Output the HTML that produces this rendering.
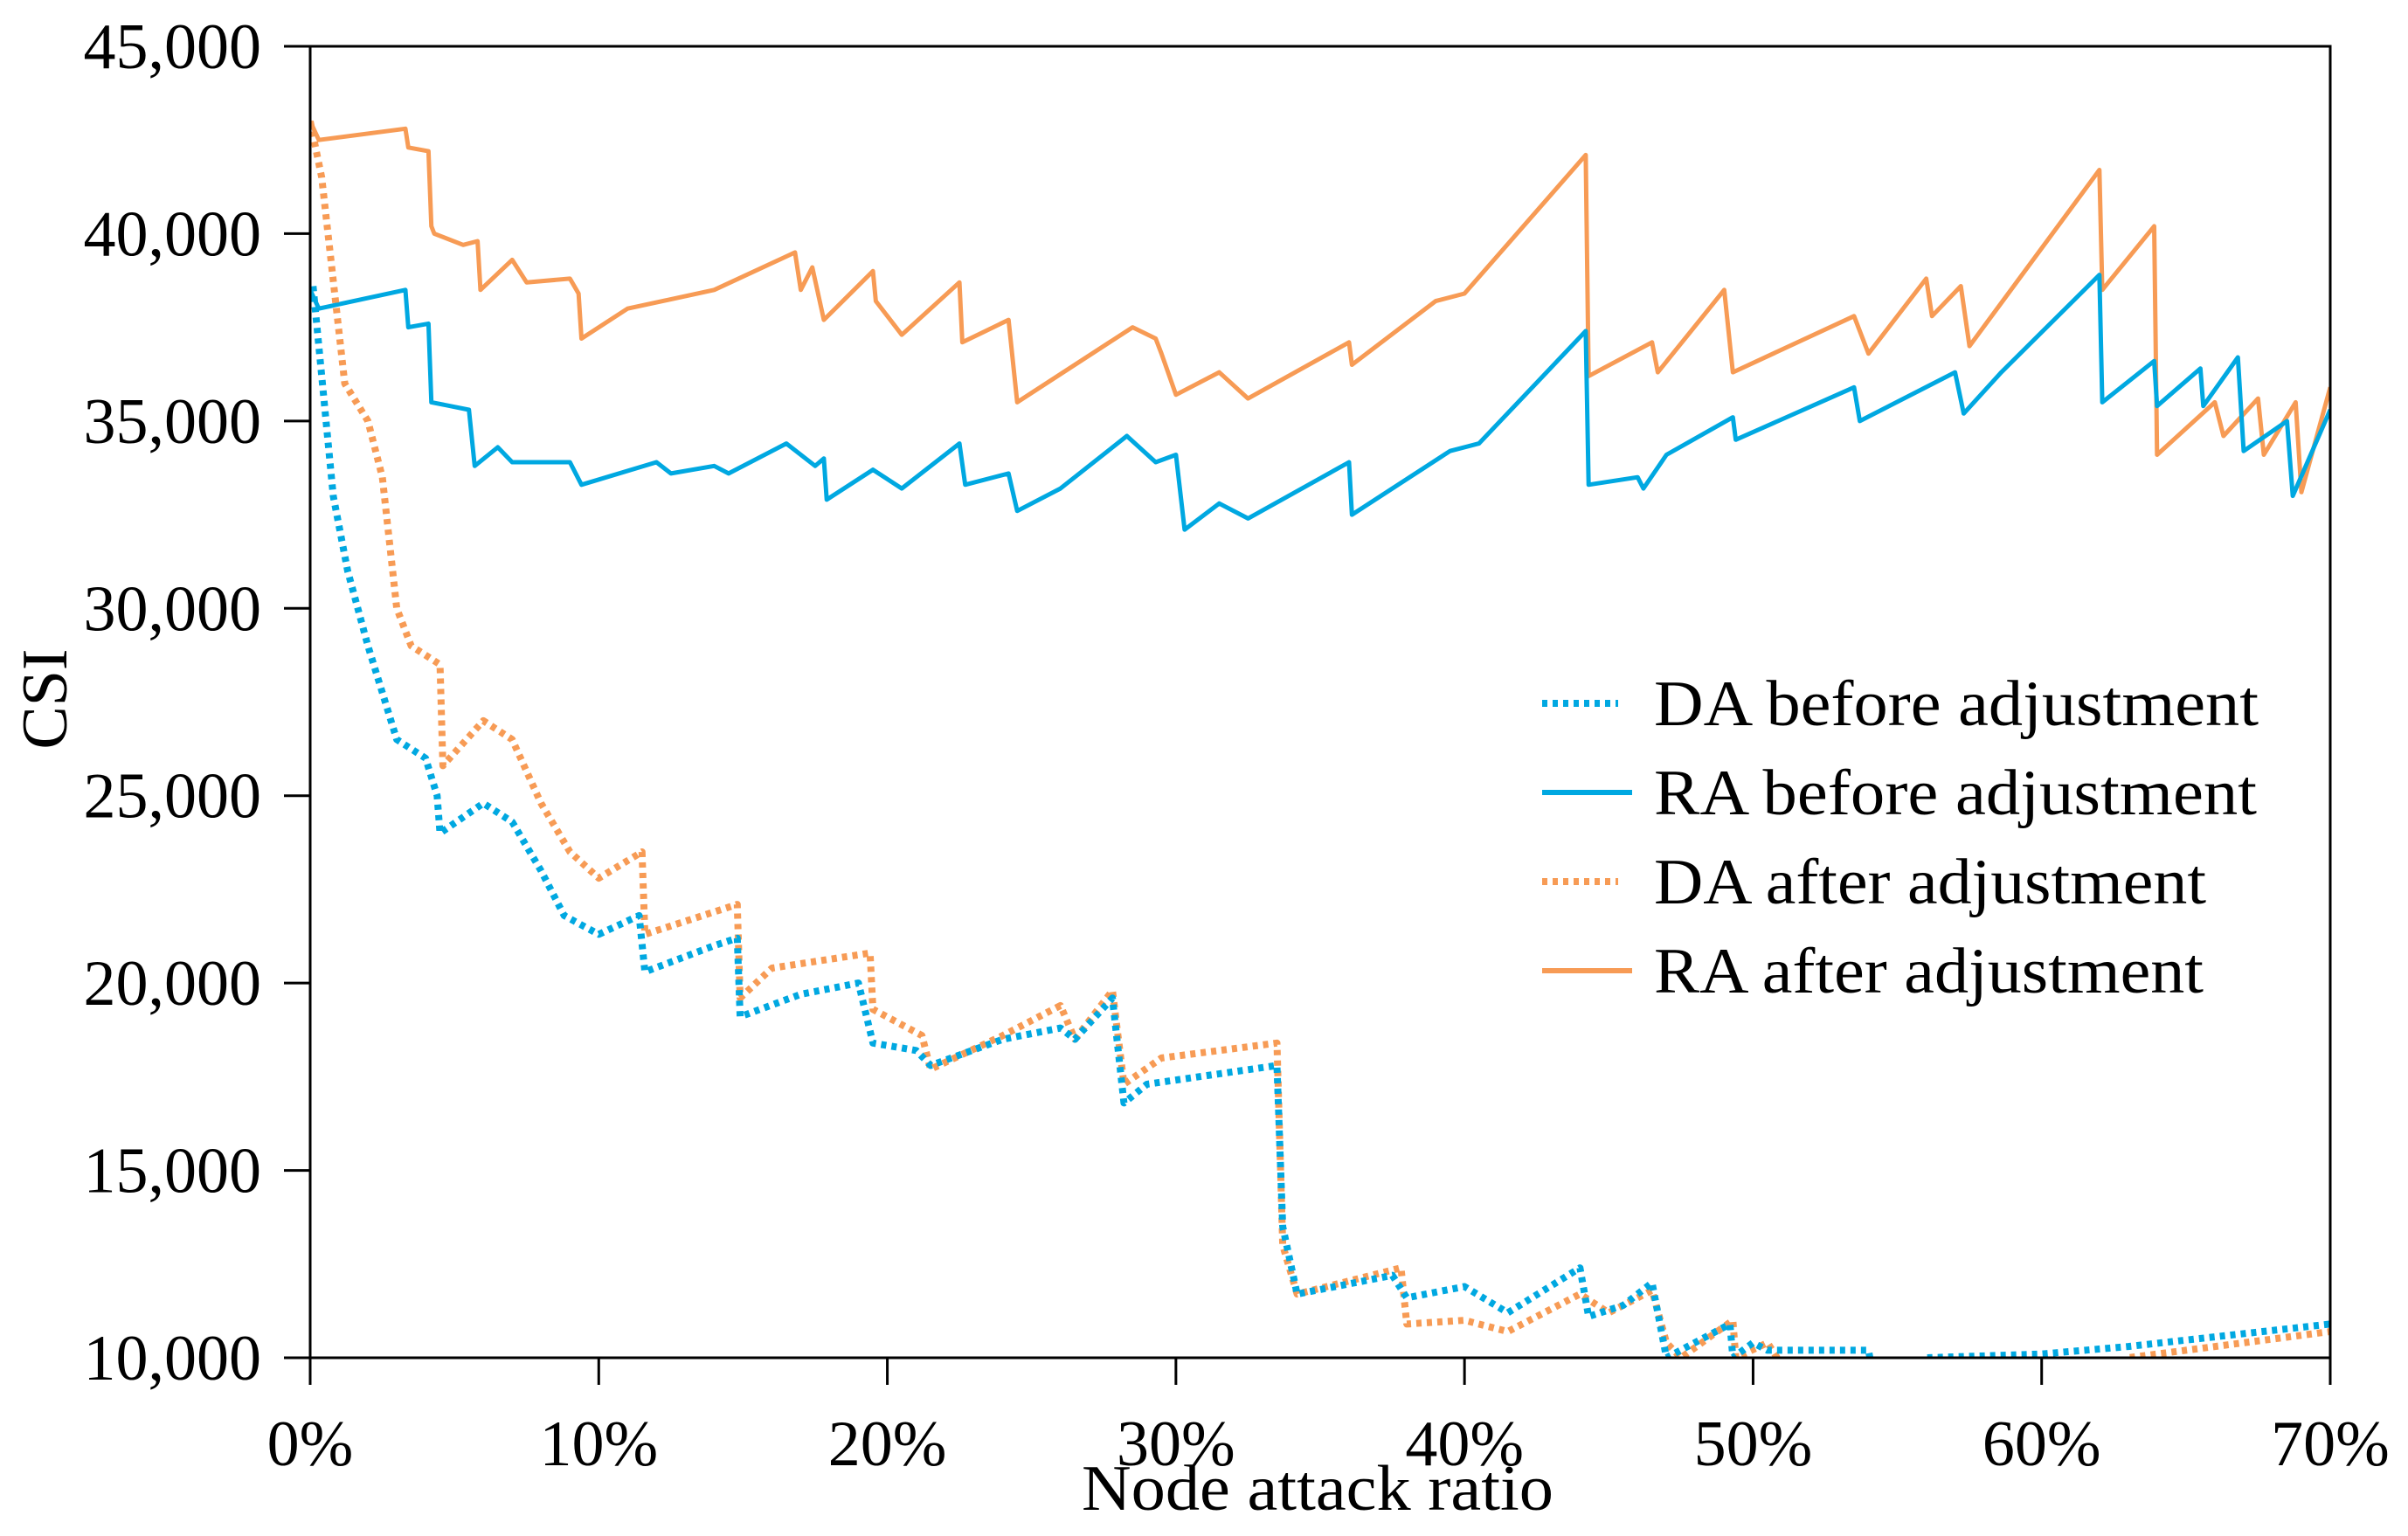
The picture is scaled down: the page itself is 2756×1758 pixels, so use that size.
<!DOCTYPE html>
<html><head><meta charset="utf-8"><style>
html,body{margin:0;padding:0;background:#fff;}
svg{display:block;font-family:"Liberation Serif","Times New Roman",serif;}
</style></head><body>
<svg id="chart" width="2756" height="1758" viewBox="0 0 2756 1758" xmlns="http://www.w3.org/2000/svg">
<g id="series"></g>
<g id="axes"></g>
<g id="legend"></g>
</svg>
<script>
const xTicks = [0,10,20,30,40,50,60,70];
const yTicks = [10000,15000,20000,25000,30000,35000,40000,45000];
const seriesNames = ["DA before adjustment","RA before adjustment","DA after adjustment","RA after adjustment"];
const raAfterX = [0,0.3,3.3,3.4,4.1,4.2,4.3,5.3,5.8,5.9,7,7.5,9,9.3,9.4,11,14,16.8,17,17.4,17.8,19.5,19.6,20.5,22.5,22.6,24.2,24.5,28.5,29.3,29.5,30,31.5,32.5,36,36.1,39,40,44.2,44.3,46.5,46.7,49,49.3,53.5,54,56,56.2,57.2,57.5,62,62.1,63.9,64,66,66.3,67.5,67.7,68.8,69,70];
const raAfterY = [43000,42500,42800,42300,42200,40200,40000,39700,39800,38500,39300,38700,38800,38400,37200,38000,38500,39500,38500,39100,37700,39000,38200,37300,38700,37100,37700,35500,37500,37200,36800,35700,36300,35600,37100,36500,38200,38400,42100,36200,37100,36300,38500,36300,37800,36800,38800,37800,38600,37000,41700,38500,40200,34100,35500,34600,35600,34100,35500,33100,35900];
const raBeforeX = [0,0.3,3.3,3.4,4.1,4.2,5.5,5.7,6.5,7,9,9.4,12,12.5,14,14.5,16.5,17.5,17.8,17.9,19.5,20.5,22.5,22.7,24.2,24.5,26,28.3,29.3,30,30.3,31.5,32.5,36,36.1,39.5,40.5,44.2,44.3,46,46.2,47,49.3,49.4,53.5,53.7,57,57.3,58.6,62,62.1,63.9,64,65.5,65.6,66.8,67,68.5,68.7,70];
const raBeforeY = [38500,38000,38500,37500,37600,35500,35300,33800,34300,33900,33900,33300,33900,33600,33800,33600,34400,33800,34000,32900,33700,33200,34400,33300,33600,32600,33200,34600,33900,34100,32100,32800,32400,33900,32500,34200,34400,37400,33300,33500,33200,34100,35100,34500,35900,35000,36300,35200,36300,38900,35500,36600,35400,36400,35400,36700,34200,35000,33000,35300];
const daBeforeX = [0.1,0.8,1.3,2,3,4,4.4,4.5,6,7,8,8.8,10,11.4,11.6,14,14.8,14.9,17,19,19.5,21,21.5,24,26,26.5,27.8,28.2,29,33.5,33.7,34.2,37.5,38,40,41.5,44,44.3,45.5,46.5,47,49.2,49.3,50,50.5,54,54.1,55.9,56,60,63,70];
const daBeforeY = [38600,33000,31000,29000,26500,26000,25000,24000,24800,24300,23000,21800,21300,21800,20300,21000,21200,19100,19700,20000,18400,18200,17800,18500,18800,18500,19600,16800,17300,17800,13500,11700,12200,11600,11900,11200,12400,11100,11400,12000,10000,10900,10000,10400,10200,10200,9800,9800,10000,10100,10300,10900];
const daAfterX = [0,0.4,1.2,2,2.5,3,3.5,4.5,4.6,6,7,8,9,10,11.5,11.6,14.8,14.9,16,19.4,19.5,21.2,21.5,24,26,26.5,27.8,28.2,29.5,33.5,33.7,34.2,37.8,38,40,41.5,44,45,46.5,47,47.5,49.3,49.4,50.5,51,62.9,63,70];
const daAfterY = [43000,41500,36000,35000,33500,30000,29000,28500,25800,27000,26500,24800,23500,22800,23500,21300,22100,19600,20400,20800,19300,18600,17700,18600,19400,18500,19800,17300,18000,18400,13000,11700,12400,10900,11000,10700,11700,11200,11800,10400,10000,11000,10000,10400,9800,9800,10000,10700];

const L=355,R=2667,T=53,B=1554;
const xs=v=>L+(v-0)/70*(R-L);
const ys=v=>B-(v-10000)/35000*(B-T);
const NS="http://www.w3.org/2000/svg";
function mk(tag,attrs,parent){const e=document.createElementNS(NS,tag);for(const k in attrs)e.setAttribute(k,attrs[k]);parent.appendChild(e);return e;}
const BLUE="#00A8E1",ORANGE="#F79B55";
const sg=document.getElementById('series');
const defs=mk('clipPath',{id:'clip'},document.getElementById('chart'));
mk('rect',{x:L,y:T,width:R-L,height:B-T},defs);
sg.setAttribute('clip-path','url(#clip)');
function line(xa,ya,color,dotted,name){
  const d=xa.map((x,i)=>(i?'L':'M')+xs(x).toFixed(1)+' '+ys(ya[i]).toFixed(1)).join(' ');
  const p=mk('path',{d:d,fill:'none',stroke:color,'stroke-width':dotted?8:5,'stroke-linejoin':'round'},sg);
  if(dotted)p.setAttribute('stroke-dasharray','6 6');
  
  
}
line(raAfterX,raAfterY,ORANGE,false,'ra-after-line');
line(raBeforeX,raBeforeY,BLUE,false,'ra-before-line');
line(daAfterX,daAfterY,ORANGE,true,'da-after-line');
line(daBeforeX,daBeforeY,BLUE,true,'da-before-line');

const ag=document.getElementById('axes');
const frame=mk('rect',{x:L,y:T,width:R-L,height:B-T,fill:'none',stroke:'#000','stroke-width':3},ag);


yTicks.forEach(v=>{
  const y=ys(v);
  const t=mk('line',{x1:L-30,x2:L,y1:y,y2:y,stroke:'#000','stroke-width':3},ag);
  
  
  const tx=mk('text',{x:299,y:y+25,'text-anchor':'end','font-size':74,fill:'#000'},ag);
  
  
  tx.textContent=v.toLocaleString('en-US');
});
xTicks.forEach(v=>{
  const x=xs(v);
  const t=mk('line',{x1:x,x2:x,y1:B,y2:B+31,stroke:'#000','stroke-width':3},ag);
  
  
  const tx=mk('text',{x:x,y:1677,'text-anchor':'middle','font-size':74,fill:'#000'},ag);
  
  
  tx.textContent=v+'%';
});
const xt=mk('text',{x:1508,y:1728,'text-anchor':'middle','font-size':74,fill:'#000',textLength:540,lengthAdjust:'spacingAndGlyphs'},ag);


xt.textContent='Node attack ratio';
const yt=mk('text',{x:0,y:0,'text-anchor':'middle','font-size':74,fill:'#000',transform:'translate(76,800) rotate(-90)'},ag);


yt.textContent='CSI';

const lg=document.getElementById('legend');
const lcol=[BLUE,BLUE,ORANGE,ORANGE],ldot=[true,false,true,false],lw=[692,690,632,629];
seriesNames.forEach((n,i)=>{
  const y=805+i*102;
  const g=mk('g',{},lg);
  
  
  const ln=mk('line',{x1:1765,x2:ldot[i]?1852:1868,y1:y,y2:y,stroke:lcol[i],'stroke-width':ldot[i]?8:6},g);
  if(ldot[i])ln.setAttribute('stroke-dasharray','6 6');
  
  
  const tx=mk('text',{x:1893,y:y+25,'font-size':74,fill:'#000',textLength:lw[i],lengthAdjust:'spacingAndGlyphs'},g);
  
  
  tx.textContent=n;
});
</script>
</body></html>
